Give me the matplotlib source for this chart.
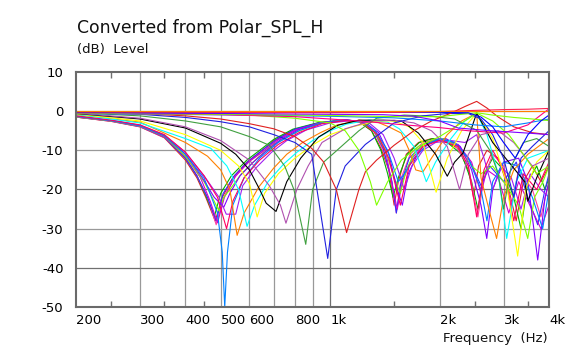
import matplotlib
matplotlib.use("Agg")
import matplotlib.pyplot as plt
from matplotlib.ticker import NullFormatter

plt.rcParams["axes.unicode_minus"] = False
plt.rcParams["font.family"] = ["DejaVu Sans"]

# Axis ticks and labels
x_ticks = [200, 300, 400, 500, 600, 700, 800, 900, 1000, 2000, 3000, 4000]
x_labels = ["200", "300", "400", "500", "600", "", "800", "", "1k", "2k", "3k", "4k"]
x_minor = [250, 350, 450, 1500, 2500, 3500]
y_ticks = [10, 0, -10, -20, -30, -40, -50]

# Curves: (frequency Hz, level dB)
red_483 = [(200, -1.5), (250, -2.6), (300, -4.0), (350, -6.8), (400, -12.5), (430, -17), (455, -22),
           (483, -28), (505, -22), (540, -17), (590, -13), (640, -10.5), (700, -7.5), (790, -4.8),
           (930, -3.0), (1100, -2.3), (1200, -2.7), (1300, -5), (1380, -9.5), (1450, -15), (1500, -24),
           (1540, -18), (1620, -11), (1750, -8), (1900, -7), (2050, -7.5), (2250, -9.5), (2400, -15),
           (2480, -22), (2560, -14), (2700, -10), (2900, -12), (3100, -20), (3250, -28), (3400, -18),
           (3600, -14), (3800, -18), (4000, -14)]
green_480 = [(200, -1.5), (250, -2.5), (300, -3.9), (350, -6.6), (400, -12), (430, -16.5), (455, -21.5),
             (480, -27), (500, -21), (535, -16.5), (590, -12.5), (640, -10), (700, -7.2), (790, -4.6),
             (930, -2.9), (1100, -2.2), (1200, -2.6), (1300, -5), (1380, -10), (1440, -16), (1490, -22),
             (1540, -17), (1630, -11), (1760, -8), (1920, -7), (2100, -8), (2300, -11), (2450, -18),
             (2550, -25), (2650, -16), (2800, -12), (3000, -15), (3200, -22), (3350, -30), (3500, -18),
             (3700, -14), (3900, -20), (4000, -17)]
hotpink_486 = [(200, -1.5), (250, -2.6), (300, -4.0), (350, -6.7), (400, -12), (430, -16.5), (460, -22),
               (486, -29), (510, -22), (545, -17), (595, -13), (650, -10.5), (710, -7.5), (800, -4.8),
               (940, -3.0), (1100, -2.3), (1220, -2.8), (1320, -5.2), (1400, -10), (1470, -17),
               (1521, -26), (1570, -17), (1660, -11), (1800, -8), (2000, -7), (2200, -8.5), (2400, -14),
               (2550, -27), (2650, -17), (2800, -11), (3000, -14), (3150, -24), (3300, -15), (3600, -20),
               (3800, -27), (4000, -18)]
blue_486 = [(200, -1.4), (250, -2.5), (300, -3.9), (350, -6.6), (400, -12), (430, -16.5), (460, -22),
            (486, -28), (508, -21), (545, -16.5), (595, -12.8), (650, -10), (710, -7.3), (800, -4.6),
            (940, -2.9), (1100, -2.2), (1220, -2.7), (1320, -5), (1400, -9.5), (1480, -18), (1521, -26),
            (1560, -19), (1650, -12), (1800, -8.5), (2000, -7), (2200, -8), (2400, -12), (2600, -19),
            (2750, -14), (3000, -18), (3250, -13), (3500, -22), (3724, -29), (3900, -20), (4000, -16)]
magenta_490 = [(200, -1.4), (250, -2.5), (300, -3.8), (350, -6.5), (400, -11.5), (440, -17), (468, -23),
               (490, -28.5), (512, -22), (550, -16.5), (600, -12.8), (660, -10), (720, -7.3), (810, -4.7),
               (950, -2.9), (1100, -2.3), (1230, -2.8), (1340, -5.5), (1420, -10), (1490, -20),
               (1530, -25), (1580, -18), (1680, -12), (1800, -9), (2000, -7.2), (2250, -8.5), (2450, -13),
               (2600, -21), (2700, -15), (2900, -17), (3100, -26), (3300, -18), (3500, -23), (3800, -30),
               (4000, -24)]
lime_495 = [(200, -1.4), (250, -2.5), (300, -3.8), (350, -6.4), (400, -11.5), (450, -18), (480, -23),
            (495, -25.5), (510, -22), (530, -20), (570, -16), (630, -12), (700, -8.5), (800, -5.5),
            (930, -3.2), (1080, -2.3), (1200, -2.7), (1320, -5), (1420, -10), (1500, -17), (1560, -21),
            (1620, -15), (1720, -10), (1850, -8), (2050, -7), (2250, -9), (2450, -14), (2600, -16),
            (2800, -14), (3000, -18), (3300, -24), (3496, -32.5), (3650, -22), (3850, -18), (4000, -14)]
purple_510 = [(200, -1.3), (250, -2.4), (300, -3.7), (350, -6.3), (400, -11), (445, -17), (480, -22),
              (510, -24.5), (530, -21), (565, -16.5), (615, -13), (670, -10), (730, -7.3), (820, -4.7),
              (960, -2.9), (1120, -2.3), (1250, -2.9), (1360, -5.5), (1450, -11), (1530, -20),
              (1580, -24), (1640, -16), (1740, -11), (1880, -8), (2080, -7), (2280, -9), (2450, -15),
              (2600, -24), (2697, -32.5), (2800, -20), (3000, -13), (3300, -12), (3500, -18), (3724, -38),
              (3900, -22), (4000, -18)]
violet_535 = [(200, -1.2), (250, -2.3), (300, -3.6), (350, -6.1), (400, -10.5), (450, -16.5), (495, -22),
              (518, -26.3), (550, -26.3), (575, -19), (625, -14.5), (690, -10.5), (760, -7.5), (860, -4.8),
              (1000, -3.0), (1150, -2.4), (1280, -3), (1400, -6), (1500, -12), (1600, -20), (1680, -14),
              (1800, -10), (1950, -8), (2150, -7.5), (2350, -8), (2530, -6), (2650, -12), (2800, -20),
              (2950, -14), (3150, -17), (3350, -25), (3550, -16), (3800, -20), (4000, -22)]
lightblue_513 = [(200, -1.3), (250, -2.4), (300, -3.7), (350, -6.2), (400, -11), (450, -17), (490, -26),
                 (505, -36), (513, -50), (522, -36), (540, -24), (580, -17), (640, -12), (720, -8),
                 (820, -5), (950, -3), (1100, -2.3), (1220, -2.8), (1330, -5), (1440, -10), (1540, -18),
                 (1600, -16), (1700, -12), (1850, -8.5), (2000, -7), (2200, -8), (2400, -12), (2600, -20),
                 (2700, -28), (2800, -18), (3000, -13), (3300, -14), (3600, -22), (3843, -30), (4000, -20)]
pink_519 = [(200, -1.2), (250, -2.3), (300, -3.5), (350, -6), (400, -10.5), (450, -16.5), (490, -22),
            (519, -30), (540, -23), (580, -17), (640, -12.5), (720, -8.5), (820, -5.5), (950, -3.2),
            (1100, -2.4), (1230, -3), (1350, -6), (1450, -12), (1560, -24), (1650, -14), (1800, -9),
            (2000, -7.5), (2250, -9), (2400, -14), (2530, -27), (2650, -15), (2800, -10), (3000, -15),
            (3200, -28), (3400, -16), (3700, -20), (4000, -13)]
orange_555 = [(200, -0.9), (300, -2.8), (400, -8), (460, -11.5), (500, -15), (530, -20), (555, -31.7),
              (580, -26), (636, -19.4), (700, -14.5), (760, -11), (840, -8), (940, -5.5), (1040, -3.6),
              (1200, -2.3), (1350, -2.8), (1450, -4), (1570, -5.6), (1650, -10), (1720, -15), (1800, -15.5),
              (1900, -12), (2100, -6), (2300, -2.5), (2530, -0.5), (2600, -17), (2750, -26), (2870, -32.5),
              (3000, -22), (3200, -15), (3500, -11), (4000, -7)]
cyan_591 = [(200, -0.8), (300, -3), (400, -7), (470, -9.5), (520, -14), (560, -20), (591, -29.4),
            (620, -24), (675, -18), (745, -13.5), (810, -10.5), (895, -7.5), (1000, -5), (1110, -3.3),
            (1280, -2.3), (1440, -2.8), (1550, -4.5), (1700, -9), (1839, -18), (1950, -13), (2150, -7),
            (2350, -2.5), (2530, -0.5), (2700, -6), (2900, -16), (3060, -32.5), (3250, -18), (3500, -12),
            (4000, -10)]
yellow_630 = [(200, -0.7), (300, -2.5), (400, -6), (500, -10), (560, -14), (600, -18.5), (630, -27),
              (660, -21), (720, -16), (800, -12), (900, -8.5), (1000, -6), (1150, -4), (1350, -2.5),
              (1500, -2.5), (1650, -4), (1800, -8), (1957, -20.7), (2100, -12), (2300, -5), (2530, -0.5),
              (2800, -7), (3050, -18), (3280, -37), (3450, -20), (3700, -13), (4000, -10)]
black_700 = [(200, -0.6), (300, -2), (400, -4.3), (500, -8.2), (550, -11), (600, -15), (640, -20),
             (667, -23.5), (710, -25.6), (760, -18), (830, -12), (930, -6.6), (1050, -3.6), (1200, -2.3),
             (1400, -2.3), (1570, -2.5), (1750, -5.6), (1950, -11), (2100, -16.6), (2200, -13),
             (2320, -10.7), (2530, -0.5), (2800, -8), (3100, -13), (3430, -18), (3500, -23), (3700, -17),
             (4000, -10)]
violet_756 = [(200, -0.5), (300, -1.8), (400, -4), (500, -7.5), (600, -12.5), (680, -19), (730, -24),
              (756, -28.6), (810, -20), (870, -14), (950, -8), (1100, -4.5), (1300, -2.5), (1500, -2.3),
              (1700, -3), (1900, -5), (2100, -9), (2270, -20), (2400, -11), (2600, -6), (2900, -5),
              (3200, -8), (3600, -14), (4000, -12)]
green_857 = [(200, -0.4), (300, -1.2), (400, -2.5), (500, -4), (600, -6.5), (680, -8.7), (750, -14),
             (795, -20), (857, -34), (895, -20), (960, -13), (1030, -10.5), (1200, -5), (1342, -1.8),
             (1600, -1.0), (1900, -1.3), (2200, -2), (2530, -4.9), (2750, -10), (2900, -16), (3000, -25),
             (3150, -14), (3400, -8), (3700, -7), (4000, -9)]
blue_985 = [(200, -0.3), (300, -0.8), (400, -1.6), (500, -2.7), (600, -4), (700, -6), (800, -8),
            (890, -11), (920, -20), (985, -37.6), (1040, -20), (1100, -14), (1250, -8.5), (1500, -3),
            (1800, -1.2), (2100, -0.6), (2400, -0.6), (2600, -2), (2800, -6), (3000, -12), (3200, -22),
            (3350, -12), (3600, -9), (4000, -5)]
red_1110 = [(200, -0.3), (300, -0.6), (400, -1.2), (500, -2), (600, -3.2), (700, -4.5), (800, -6.5),
            (890, -9.5), (960, -13), (1040, -20), (1110, -31), (1200, -20), (1250, -15.5), (1342, -12.5),
            (1500, -8.7), (1700, -5), (1900, -2.5), (2150, -0.5), (2350, 1.2), (2530, 2.5), (2700, 0.8),
            (2900, -1.5), (3200, -4), (3600, -5.5), (4000, -6)]
lime_1342 = [(200, -0.2), (400, -0.5), (600, -1), (800, -1.8), (1000, -3), (1100, -5), (1200, -10),
             (1290, -18), (1342, -24), (1440, -18), (1570, -12.5), (1750, -9), (2000, -6.5), (2300, -3),
             (2530, -0.5), (2800, -2.5), (3100, -6), (3400, -11), (3700, -16), (4000, -14)]
lightblue_top = [(200, -0.6), (600, -1.0), (1000, -1.3), (1500, -1.7), (2000, -2.5), (2500, -3.5),
                 (3000, -4), (3500, -3), (4000, -2)]
pink_top = [(200, -0.5), (500, -0.9), (800, -1.4), (1200, -2.5), (1600, -3.5), (2000, -4.2), (2400, -5),
            (3000, -5.6), (3500, -3.5), (4000, 0.6)]
lime_top = [(200, -0.5), (500, -0.8), (1000, -1.1), (1500, -1.4), (2000, -1.4), (2300, -0.8), (2530, -0.4),
            (2800, -1.0), (3200, -1.6), (3600, -2.0), (4000, -2.4)]
purple_top = [(200, -0.4), (500, -0.6), (1000, -0.8), (1400, -0.9), (1700, -1.3), (2000, -2.5), (2250, -4.3),
              (2600, -4.8), (3000, -5.2), (3500, -5.6), (4000, -6.0)]
blue_top = [(200, -0.3), (500, -0.4), (1000, -0.3), (1500, -0.3), (2000, -0.3), (2400, -0.4), (2600, -1.5),
            (2800, -4), (3000, -8), (3230, -12), (3500, -6), (3800, -2.5), (4000, -1)]
red_top = [(200, -0.2), (500, -0.3), (1000, -0.4), (1500, -0.3), (2000, -0.1), (2500, 0.2), (3000, 0.4),
           (3500, 0.5), (4000, 0.7)]
orange_0 = [(200, 0.0), (4000, 0.0)]

curves = [
    (red_483, "#E0202A"), (green_480, "#00B000"), (hotpink_486, "#FF40A0"), (blue_486, "#3030FF"),
    (magenta_490, "#D000D0"), (lime_495, "#80FF00"), (purple_510, "#8000FF"), (violet_535, "#A020F0"),
    (lightblue_513, "#0080FF"), (pink_519, "#FF0060"), (orange_555, "#FF8000"), (cyan_591, "#00FFFF"),
    (yellow_630, "#FFFF00"), (black_700, "#000000"), (violet_756, "#B050B0"), (green_857, "#40A040"),
    (blue_985, "#2020E0"), (red_1110, "#E02020"), (lime_1342, "#80FF00"), (lightblue_top, "#0080FF"),
    (pink_top, "#FF0080"), (lime_top, "#80FF00"), (purple_top, "#8000FF"), (blue_top, "#0000FF"),
    (red_top, "#FF2050"), (orange_0, "#FF8000"),
]

fig = plt.figure(figsize=(5.78, 3.51), dpi=100)
ax = fig.add_axes([76 / 578, 1 - 307 / 351, (549 - 76) / 578, (307 - 72) / 351])

for pts, color in curves:
    ax.plot([p[0] for p in pts], [p[1] for p in pts], color=color, lw=0.8, zorder=2)

ax.set_xscale("log")
ax.set_xlim(200, 4000)
ax.set_ylim(-50, 10)

# Grid lines
for f in x_ticks[1:-1]:
    ax.axvline(f, color="#707070" if f == 1000 else "#999999", lw=0.9, zorder=1)
for v in y_ticks[1:-1]:
    ax.axhline(v, color="#707070" if v in (-20, -40) else "#999999", lw=0.9, zorder=1)

ax.set_xticks(x_ticks, x_labels)
ax.set_xticks(x_minor, minor=True)
ax.xaxis.set_minor_formatter(NullFormatter())
ax.set_yticks(y_ticks, [str(v) for v in y_ticks])
ax.tick_params(axis="x", which="major", length=0, pad=5, labelsize=9.5)
ax.tick_params(axis="x", which="minor", length=4, direction="in", top=True, bottom=True,
               color="#707070", width=1)
ax.tick_params(axis="y", length=0, pad=9, labelsize=9.5)
for label in ax.get_xticklabels():
    label.set_horizontalalignment("left")

for spine in ax.spines.values():
    spine.set_color("#6a6a6a")
    spine.set_linewidth(1.5)
    spine.set_zorder(3)

fig.text(77 / 578, 1 - 33 / 351, "Converted from Polar_SPL_H", fontsize=12.4, ha="left", va="baseline",
         color="#111111")
fig.text(77 / 578, 1 - 53 / 351, "(dB)  Level", fontsize=9.5, ha="left", va="baseline", color="#111111")
fig.text(548 / 578, 1 - 342 / 351, "Frequency  (Hz)", fontsize=9.5, ha="right", va="baseline",
         color="#111111")

fig.savefig("out.png", dpi=100)
